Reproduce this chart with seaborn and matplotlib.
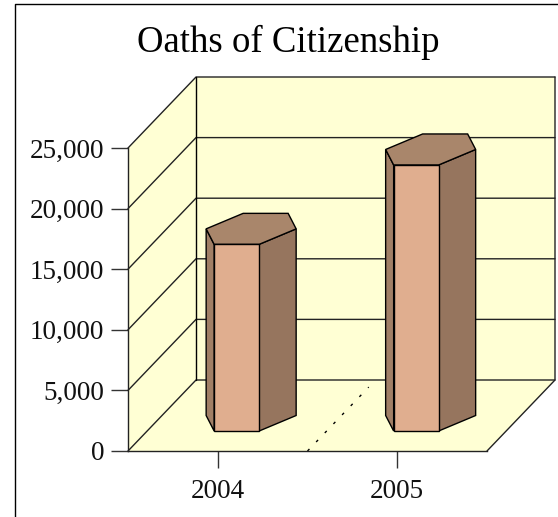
import matplotlib
matplotlib.use("Agg")
import matplotlib.pyplot as plt
import seaborn as sns
from matplotlib.lines import Line2D
from matplotlib.patches import Polygon
from matplotlib.transforms import Affine2D

# Data
years = ["2004", "2005"]
oaths = [15400, 21950]
y_ticks = [0, 5000, 10000, 15000, 20000, 25000]

# Colours
wall_color = "#FFFFD4"
front_color = "#E0AE8F"
top_color = "#A9866B"
right_color = "#96755E"
left_color = "#A17F66"

sns.set_theme(style="white")
plt.rcParams["font.family"] = ["Liberation Serif", "DejaVu Sans"]

W, H = 558, 517
fig = plt.figure(figsize=(W / 100, H / 100), dpi=100)
# front plane of the fake 3d box, in pixels
left, right, top, bottom = 128, 487, 148, 451
ax = fig.add_axes([left / W, 1 - bottom / H, (right - left) / W, (bottom - top) / H])
ax.patch.set_visible(False)

px_x = (right - left) / 2
px_y = (bottom - top) / y_ticks[-1]
depth_x, depth_y = 68, 71


def shift(x, y, dx, dy):
    # move a data point by a pixel offset
    return x + dx / px_x, y + dy / px_y


def panel(points, color, z):
    ax.add_patch(Polygon(points, closed=True, facecolor=color, edgecolor="none", clip_on=False, zorder=z))


# Walls and floor
y_max = y_ticks[-1]
panel([(-0.5, 0), (-0.5, y_max), shift(-0.5, y_max, depth_x, depth_y), shift(-0.5, 0, depth_x, depth_y)], wall_color, 0)
panel([shift(-0.5, 0, depth_x, depth_y), shift(-0.5, y_max, depth_x, depth_y),
       shift(1.5, y_max, depth_x, depth_y), shift(1.5, 0, depth_x, depth_y)], wall_color, 0)
panel([(-0.5, 0), (1.5, 0), shift(1.5, 0, depth_x, depth_y), shift(-0.5, 0, depth_x, depth_y)], wall_color, 0)

# Gridlines round the walls
for t in y_ticks:
    a = shift(-0.5, t, depth_x, depth_y)
    b = shift(1.5, t, depth_x, depth_y)
    ax.plot([-0.5, a[0], b[0]], [t, a[1], b[1]], color="#222222", lw=1, clip_on=False, zorder=1)
corner = [shift(-0.5, 0, depth_x, depth_y), shift(-0.5, y_max, depth_x, depth_y)]
ax.plot(*zip(*corner), color="black", lw=1, clip_on=False, zorder=1)
corner = [(1.5, 0), shift(1.5, 0, depth_x, depth_y), shift(1.5, y_max, depth_x, depth_y)]
ax.plot(*zip(*corner), color="#222222", lw=1, clip_on=False, zorder=1)

# Dashed divider on the floor between the categories
end = shift(0.5, 0, depth_x * 0.9, depth_y * 0.9)
ax.plot([0.5, end[0]], [0, end[1]], color="black", lw=1, dashes=(2, 7), clip_on=False, zorder=1)

# Front faces of the columns
bar_dx, bar_dy = 18.9, 20
sns.barplot(x=years, y=oaths, ax=ax, color=front_color, saturation=1, width=0.25,
            edgecolor="black", linewidth=1, zorder=4)
for patch in ax.containers[0]:
    patch.set_transform(ax.transData + Affine2D().translate(bar_dx, bar_dy))
    patch.set_clip_on(False)

# Side faces and top of the hexagonal columns
half = 22.5
for i, value in enumerate(oaths):
    def base(dx, dy, v=0):
        return shift(i, v, bar_dx + dx, bar_dy + dy)

    def top_pt(dx, dy):
        return base(dx, dy, value)

    style = dict(closed=True, edgecolor="black", linewidth=1, clip_on=False, zorder=3)
    ax.add_patch(Polygon([base(half, 0), base(half + 37, 15.5), top_pt(half + 37, 15.5), top_pt(half, 0)],
                         facecolor=right_color, **style))
    ax.add_patch(Polygon([base(-half, 0), base(-half - 8, 15.5), top_pt(-half - 8, 15.5), top_pt(-half, 0)],
                         facecolor=left_color, **style))
    ax.add_patch(Polygon([top_pt(-half, 0), top_pt(half, 0), top_pt(half + 37, 15.5), top_pt(half + 29, 31),
                          top_pt(-half + 29, 31), top_pt(-half - 8, 15.5)], facecolor=top_color, **style))

# Axes
ax.set_xlim(-0.5, 1.5)
ax.set_ylim(0, y_max)
ax.set_yticks(y_ticks)
ax.set_yticklabels([f"{t:,}" for t in y_ticks], fontsize=19.5, color="#111111")
ax.set_xticks(range(len(years)))
ax.set_xticklabels(years, fontsize=19.5, color="#111111")
ax.set_xlabel("")
ax.tick_params(axis="both", length=12, width=1, color="#333333", bottom=True, left=True, pad=5)
ax.tick_params(axis="x", pad=8)
for name in ["top", "right"]:
    ax.spines[name].set_visible(False)
for name in ["left", "bottom"]:
    ax.spines[name].set_color("#222222")
    ax.spines[name].set_linewidth(1)

fig.text(288.5 / W, 1 - 42 / H, "Oaths of Citizenship", fontsize=26.5, ha="center", va="center", color="black")

# Chart frame
fig.add_artist(Line2D([14.5 / W, 14.5 / W, 1], [0, 1 - 3.5 / H, 1 - 3.5 / H], color="black", lw=1))

fig.savefig("out.png", dpi=100)
